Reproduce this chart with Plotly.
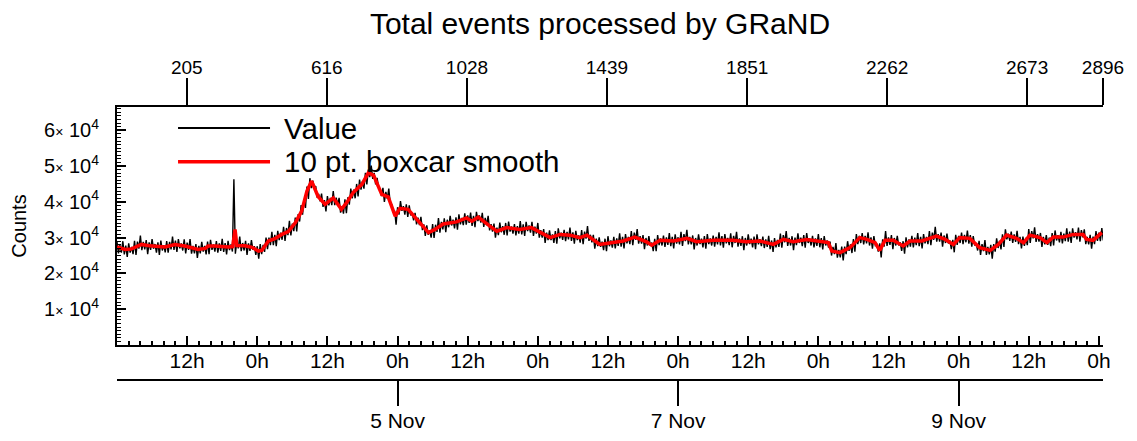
import pandas as pd
import plotly.graph_objects as go

# ---------------- data ----------------
start_time = "2007-11-03 00:00"
end_time = "2007-11-10 00:42"
sample_minutes = 15

# raw counts ("Value"), one reading every 15 minutes from 3 Nov 00:00
raw_counts = [
    # 3 Nov
    28800, 25600, 27900, 25800, 29000, 25300, 27800, 24600, 28400, 25800, 27400, 25400,
    29100, 25200, 28900, 26900, 30600, 26500, 28800, 26700, 29300, 25400, 28700, 26600,
    29600, 26900, 28200, 25800, 28700, 25200, 29200, 26400, 27900, 25900, 29000, 25800,
    28800, 26700, 30300, 26600, 29200, 26000, 29600, 27000, 28400, 26400, 29500, 25600,
    28600, 26600, 29600, 25500, 27700, 25600, 28200, 24300, 27700, 25600, 28800, 26100,
    27700, 25300, 28900, 25400, 29400, 26600, 28100, 26100, 29000, 25800, 28400, 26300,
    29700, 26000, 28500, 25300, 29100, 26500, 28100, 26100, 46300, 25500, 29000, 27000,
    30300, 26200, 28500, 26400, 29100, 25200, 28400, 26300, 29300, 26600, 27600, 25200,
    # 4 Nov
    27600, 24100, 28200, 25400, 28000, 26000, 30000, 26800, 30000, 27900, 31600, 27900,
    30800, 27600, 31900, 29300, 31400, 29400, 33000, 29100, 32700, 30700, 34700, 30600,
    33900, 31800, 35600, 31700, 36600, 34500, 39100, 36400, 40700, 38300, 44300, 40800,
    46600, 43800, 45900, 43900, 44400, 41200, 42200, 40100, 42300, 38600, 40500, 37300,
    41600, 39000, 41100, 39100, 43000, 39100, 41200, 39200, 41100, 37000, 38800, 36700,
    40700, 36800, 41300, 39200, 43700, 41000, 43400, 41000, 45000, 41500, 46200, 43400,
    45700, 43700, 48100, 44900, 49000, 46900, 50100, 46400, 48100, 44900, 46700, 44100,
    43600, 41600, 43900, 40000, 42800, 40800, 43700, 39600, 39300, 37200, 37500, 33600,
    # 5 Nov
    38500, 36400, 40200, 37500, 38800, 36400, 39300, 35800, 39000, 36200, 36800, 34800,
    36900, 33700, 35600, 33500, 35800, 32100, 33700, 30500, 33400, 30800, 32000, 30000,
    33800, 29900, 33600, 31600, 35500, 31400, 34400, 32300, 35400, 31500, 35000, 32900,
    36100, 33400, 35000, 32600, 35700, 32200, 36500, 33700, 35500, 33500, 36800, 33600,
    36200, 34100, 37000, 33300, 36100, 32900, 37200, 34600, 36200, 34200, 36900, 33000,
    35500, 33500, 36100, 32000, 33800, 31700, 33900, 30000, 32800, 30700, 34200, 31500,
    33200, 30800, 34100, 30600, 34500, 31700, 33100, 31100, 33800, 30600, 33200, 31100,
    34600, 30900, 33700, 30500, 34400, 31800, 33400, 31400, 34400, 30500, 33100, 31100,
    # 6 Nov
    34100, 30000, 32100, 30000, 32400, 28500, 31400, 29300, 32000, 29300, 30900, 28500,
    31800, 28300, 32600, 29800, 31400, 29400, 32200, 29000, 31600, 29500, 32800, 29100,
    31500, 28300, 31900, 29300, 30600, 28600, 32100, 28200, 31700, 29700, 33200, 29100,
    30800, 28700, 30800, 26900, 29700, 27600, 30100, 27400, 28900, 26500, 29700, 26200,
    30400, 27600, 29200, 27200, 30200, 27000, 29800, 27700, 31200, 27500, 30200, 27000,
    31000, 28400, 30200, 28200, 31800, 27900, 31400, 29400, 32400, 28300, 30400, 28300,
    30700, 26800, 29900, 27800, 30400, 27700, 28600, 26200, 29700, 26200, 30700, 27900,
    29800, 27800, 30600, 27400, 30100, 28000, 31300, 27600, 30200, 27000, 30900, 28300,
    # 7 Nov
    30100, 28100, 31600, 27700, 31000, 29000, 32200, 28100, 30200, 28100, 30600, 26700,
    29900, 27800, 30900, 28200, 29700, 27300, 30400, 26900, 31000, 28200, 29800, 27800,
    30600, 27500, 30200, 28100, 31500, 27800, 30400, 27200, 31000, 28400, 29900, 27900,
    31200, 27300, 30500, 28500, 31600, 27500, 29800, 27700, 30400, 26500, 29900, 27800,
    30900, 28200, 29700, 27300, 30300, 26800, 30900, 28100, 29600, 27600, 30300, 27100,
    29500, 27400, 30500, 26800, 29200, 26000, 29900, 27300, 29400, 27400, 31100, 27200,
    30700, 28700, 31800, 27700, 29900, 27800, 30400, 26500, 30000, 27900, 31200, 28500,
    30000, 27600, 30700, 27200, 31300, 28500, 29800, 27800, 30500, 27300, 29800, 27700,
    # 8 Nov
    31000, 27300, 29900, 26700, 30400, 27800, 29200, 27200, 28900, 25000, 27400, 25400,
    28500, 24400, 26600, 24500, 27500, 23600, 27500, 25400, 29000, 26300, 28100, 25700,
    29600, 26100, 31000, 28200, 30500, 28500, 31300, 28100, 30500, 28400, 31500, 27800,
    30100, 26900, 30400, 27800, 28100, 26100, 28400, 24500, 29500, 27500, 31800, 27700,
    30100, 28000, 30700, 26800, 29900, 27800, 30500, 27800, 28700, 26300, 29000, 25500,
    30100, 27300, 29500, 27500, 30500, 27300, 30000, 27900, 31300, 27600, 30200, 27000,
    31000, 28400, 30200, 28200, 31800, 27900, 31400, 29400, 33000, 28900, 31000, 28900,
    31400, 27500, 30600, 28500, 31100, 28400, 29200, 26800, 29400, 25900, 30800, 28000,
    # 9 Nov - 10 Nov
    30500, 28500, 31400, 28200, 30800, 28700, 32000, 28300, 30700, 27500, 30400, 27800,
    28400, 26400, 29100, 25200, 28200, 26200, 29300, 25200, 27400, 25300, 28000, 24100,
    28200, 26100, 29800, 27100, 29100, 26700, 30900, 27400, 32300, 29500, 31100, 29100,
    31700, 28500, 30900, 28800, 31900, 28200, 30200, 27000, 30300, 27700, 29900, 27900,
    32400, 28500, 31800, 29800, 32900, 28800, 31000, 28900, 31300, 27400, 30200, 28100,
    30700, 28000, 30000, 27600, 31300, 27800, 32000, 29200, 30700, 28700, 31600, 28400,
    31100, 29000, 32600, 28900, 31700, 28500, 32600, 30000, 31500, 29500, 32800, 28900,
    32100, 30100, 32300, 28200, 30200, 28100, 30800, 26900, 30300, 28200, 31800, 29100,
    31400, 29000, 32700, 29200,
]

# 10 pt. boxcar smooth (hours after 3 Nov 00:00, counts)
smooth_hours = [
    0.0, 1.4, 2.4, 4.2, 5.6, 8.2, 9.9, 11.6, 13.9, 15.1, 15.6, 16.8, 19.0, 19.8, 20.2, 20.5,
    21.9, 23.1, 24.2, 24.8, 25.9, 27.0, 28.2, 29.3, 30.5, 31.6, 32.5, 33.3, 34.4, 35.6, 37.0,
    38.4, 39.4, 40.4, 41.9, 43.0, 43.9, 45.3, 46.4, 47.6, 48.4, 49.8, 51.3, 53.3, 54.4, 55.8,
    58.1, 59.8, 60.7, 61.8, 63.8, 65.0, 66.7, 68.9, 70.9, 72.4, 74.1, 75.8, 77.5, 79.2, 80.4,
    82.6, 84.3, 86.6, 88.6, 90.6, 91.5, 92.9, 95.2, 97.5, 99.2, 102.0, 105.4, 107.7, 110.0,
    112.3, 114.0, 115.7, 118.0, 120.3, 121.7, 122.3, 123.7, 125.4, 127.1, 128.3, 129.7, 130.5,
    131.4, 132.8, 134.5, 135.7, 137.7, 140.2, 141.7, 143.1, 144.2, 145.9, 147.6, 149.4, 150.8,
    152.2, 153.9, 155.1, 156.2, 157.9, 159.1, 160.2, 161.9, 163.6, 165.3, 165.9, 167.0, 168.5,
]
smooth_counts = [
    27400, 26700, 26800, 28100, 27700, 27400, 28100, 27650, 26700, 27000, 27650, 27650, 27400, 27500, 32300, 27800,
    27700, 27300, 26250, 26500, 29050, 29700, 30900, 31700, 34150, 37400, 43000, 45800, 41500, 39300, 41100,
    37900, 40000, 42600, 44900, 48100, 47400, 42100, 41400, 36000, 38200, 37900, 35100, 31400, 32300, 33800,
    34400, 35500, 34600, 35700, 33200, 31800, 32800, 32300, 32800, 31400, 30000, 30900, 30700, 30000, 30700,
    28100, 28600, 29050, 30150, 28850, 27900, 29250, 29050, 29800, 28850, 29250, 29250, 28850, 29050,
    28100, 29500, 28850, 29500, 28850, 28600, 26250, 25800, 27200, 30000, 29500, 28600, 26450,
    29250, 29250, 27650, 29050, 29050, 30450, 29500, 28100, 30000, 29800, 27200, 26450, 28100,
    30700, 29800, 28600, 30700, 30000, 28600, 30150, 30150, 30900, 30900, 29500, 29250, 31400,
]

series_names = ["Value", "10 pt. boxcar smooth"]
series_colors = ["black", "#ff0000"]

index_ticks = [205, 616, 1028, 1439, 1851, 2262, 2673, 2896]
index_max = 2896

date_ticks = ["2007-11-05", "2007-11-07", "2007-11-09"]
date_labels = ["5 Nov", "7 Nov", "9 Nov"]

y_ticks = [10000, 20000, 30000, 40000, 50000, 60000]
y_mantissas = [1, 2, 3, 4, 5, 6]
y_range = [0, 66500]

# ---------------- derived ----------------
t0 = pd.Timestamp(start_time)
t1 = pd.Timestamp(end_time)
raw_times = pd.date_range(t0, periods=len(raw_counts), freq=f"{sample_minutes}min")
smooth_times = [t0 + pd.Timedelta(hours=h) for h in smooth_hours]

hour_ticks = pd.date_range("2007-11-03 12:00", "2007-11-10 00:00", freq="12h")
hour_labels = [f"{t.hour}h" for t in hour_ticks]
minor_hour_ticks = pd.date_range("2007-11-03 00:00", "2007-11-10 00:00", freq="2h")
y_labels = [f"{m}<span style='font-size:14px'>×</span> 10<sup>4</sup>" for m in y_mantissas]
y_minor = list(range(0, 66001, 1000))

FONT = "Liberation Sans, Arial, Helvetica, sans-serif"

# page is drawn with an 8 px body margin, so the figure is 8 px smaller than the window
W, H = 1129, 433
ML, MR, MT, MB = 109, 34, 99, 61
plot_h = H - MT - MB          # 273 px: main plot + date axis band
main_bottom = 35 / plot_h     # date axis band of 35 px under the main plot

fig = go.Figure()
fig.add_trace(go.Scatter(x=raw_times, y=raw_counts, mode="lines", name=series_names[0],
                         line=dict(color=series_colors[0], width=1.4), showlegend=False))
fig.add_trace(go.Scatter(x=smooth_times, y=smooth_counts, mode="lines",
                         name=series_names[1], showlegend=False,
                         line=dict(color=series_colors[1], width=3.5)))
# carriers for the extra axes (draw nothing)
fig.add_trace(go.Scatter(x=[0, index_max], y=[None, None], xaxis="x2", mode="lines",
                         showlegend=False, hoverinfo="skip"))
fig.add_trace(go.Scatter(x=[t0, t1], y=[None, None], xaxis="x3",
                         mode="lines", showlegend=False, hoverinfo="skip"))

# in-plot legend (long line samples as in the reference)
legend_rows_y = [0.923, 0.799]
for name, color, ly, lw in zip(series_names, series_colors, legend_rows_y, [2, 3.5]):
    fig.add_shape(type="line", xref="paper", yref="paper", x0=0.0619, x1=0.1552,
                  y0=ly, y1=ly, line=dict(color=color, width=lw))
    fig.add_annotation(text=name, xref="paper", yref="paper", x=0.1670, y=ly,
                       xanchor="left", yanchor="middle", showarrow=False,
                       font=dict(size=29.5, color="black", family=FONT))

axis_common = dict(showline=True, linecolor="black", linewidth=2, showgrid=False,
                   zeroline=False, tickcolor="black", tickwidth=2, automargin=False)

fig.update_layout(
    width=W, height=H,
    margin=dict(l=ML, r=MR, t=MT, b=MB, autoexpand=False),
    plot_bgcolor="white", paper_bgcolor="white",
    font=dict(family=FONT, color="black", size=20),
    title=dict(text="Total events processed by GRaND", x=592 / W, xref="container",
               xanchor="center", y=1 - 15 / H, yref="container", yanchor="middle",
               font=dict(size=30, family=FONT, color="black")),
    showlegend=False,
    xaxis=dict(type="date", range=[t0, t1], anchor="y", side="bottom",
               tickmode="array", tickvals=hour_ticks, ticktext=hour_labels,
               ticks="inside", ticklen=9, tickfont=dict(size=21), ticklabelstandoff=-4,
               minor=dict(tickmode="array", tickvals=minor_hour_ticks, ticks="inside",
                          ticklen=4, tickwidth=1.5, tickcolor="black"),
               **axis_common),
    xaxis2=dict(range=[0, index_max], overlaying="x", anchor="y", side="top",
                tickmode="array", tickvals=index_ticks,
                ticktext=[str(v) for v in index_ticks], tickfont=dict(size=19),
                ticklabelstandoff=-4,
                ticks="outside", ticklen=27, **axis_common),
    xaxis3=dict(type="date", range=[t0, t1], overlaying="x",
                anchor="free", position=0, side="bottom",
                tickmode="array", tickvals=date_ticks, ticktext=date_labels,
                tickfont=dict(size=21), ticklabelstandoff=-3,
                ticks="outside", ticklen=25, **axis_common),
    yaxis=dict(domain=[main_bottom, 1], range=y_range, tickmode="array", tickvals=y_ticks,
               ticktext=y_labels, ticks="inside", ticklen=9, ticklabelstandoff=12,
               tickfont=dict(size=20),
               minor=dict(tickmode="array", tickvals=y_minor, ticks="inside", ticklen=4,
                          tickwidth=1.2, tickcolor="black"),
               title=dict(text="Counts", font=dict(size=20), standoff=14),
               **axis_common),
)

fig.write_html("out.html")
